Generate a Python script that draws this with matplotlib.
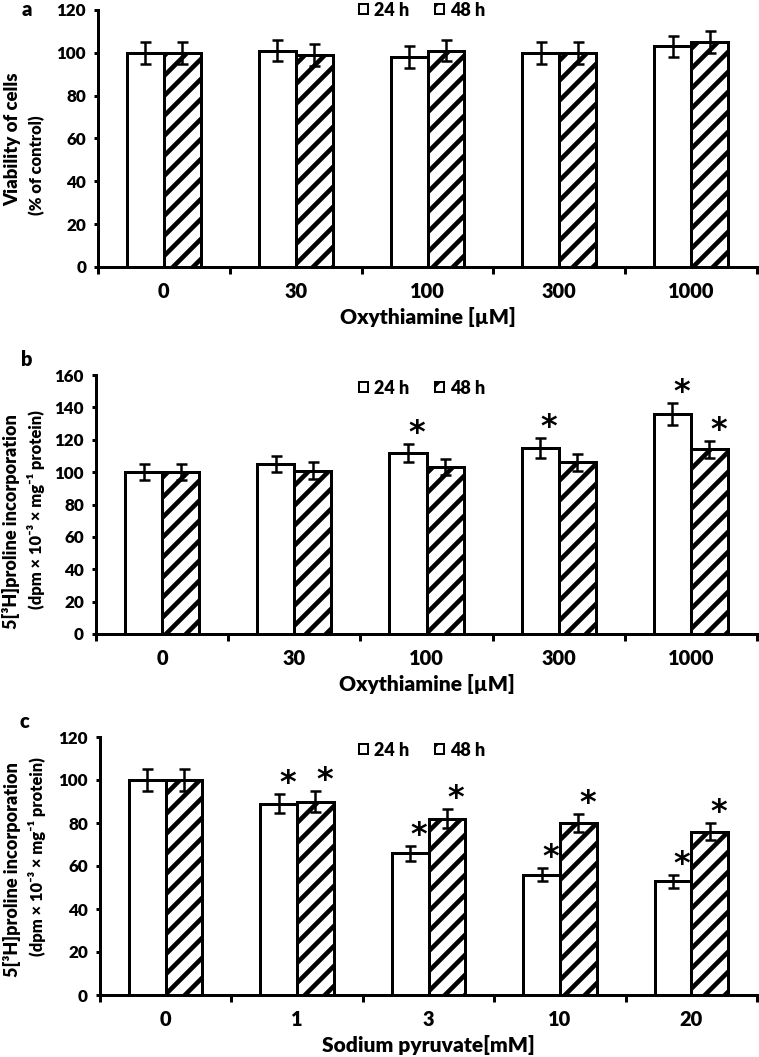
import matplotlib
matplotlib.use('Agg')
import matplotlib.pyplot as plt
from matplotlib.patches import Patch
import numpy as np

# ---------------- data ----------------
cats_a = ['0', '30', '100', '300', '1000']
a_24 = [100, 101, 98, 100, 103]
a_48 = [100, 99, 101, 100, 105]
a_24_err = [5, 5, 5, 5, 5]
a_48_err = [5, 5, 5, 5, 5]
a_24_sig = [False, False, False, False, False]
a_48_sig = [False, False, False, False, False]

cats_b = ['0', '30', '100', '300', '1000']
b_24 = [100, 105, 112, 115, 136]
b_48 = [100, 101, 103, 106, 114]
b_24_err = [5, 5, 5.5, 6, 7]
b_48_err = [5, 5, 5, 5, 5.5]
b_24_sig = [False, False, True, True, True]
b_48_sig = [False, False, False, False, True]

cats_c = ['0', '1', '3', '10', '20']
c_24 = [100, 89, 66, 56, 53]
c_48 = [100, 90, 82, 80, 76]
c_24_err = [5, 4.5, 3.5, 3, 3]
c_48_err = [5, 5, 4.5, 4, 4]
c_24_sig = [False, True, True, True, True]
c_48_sig = [False, True, True, True, True]

series_labels = ['24 h', '48 h']

# ---------------- style ----------------
DPI = 60
W, H = 759, 1057
def pt(px):
    return px * 72.0 / DPI

FONT = ['Lato', 'DejaVu Sans']
WEIGHT = 'heavy'
plt.rcParams['font.family'] = FONT
plt.rcParams['font.weight'] = WEIGHT
plt.rcParams['hatch.linewidth'] = pt(4.6)
plt.rcParams['hatch.color'] = 'black'

fig = plt.figure(figsize=(W / DPI, H / DPI), dpi=DPI)

def make_axes(l, r, t, b):
    return fig.add_axes([l / W, 1 - b / H, (r - l) / W, (b - t) / H])

BW = 0.28
LW = pt(3)

def panel(ax, cats, v24, v48, e24, e48, s24, s48, ymax, ystep, xlabel):
    x = np.arange(len(cats))
    ekw = dict(ecolor='black', elinewidth=pt(2.5), capsize=pt(5.5), capthick=pt(2.5))
    ax.bar(x - BW / 2, v24, width=BW, facecolor='white', edgecolor='black',
           linewidth=LW, yerr=e24, error_kw=ekw, zorder=2)
    ax.bar(x + BW / 2, v48, width=BW, facecolor='white', edgecolor='black',
           linewidth=LW, hatch='/', yerr=e48, error_kw=ekw, zorder=2)
    for xs, vals, errs, sig in ((x - BW / 2, v24, e24, s24), (x + BW / 2, v48, e48, s48)):
        for xi, v, e, s in zip(xs, vals, errs, sig):
            if s:
                ax.annotate('*', xy=(xi, v + e), xytext=(pt(9), pt(2)),
                            textcoords='offset points', ha='center', va='baseline',
                            fontsize=pt(32), fontweight='bold',
                            family='DejaVu Sans', zorder=5)
    ax.set_xlim(-0.5, len(cats) - 0.5)
    ax.set_ylim(0, ymax)
    ax.set_yticks(np.arange(0, ymax + 1, ystep))
    ax.set_xticks(x)
    ax.set_xticklabels(cats)
    ax.set_xticks(np.arange(-0.5, len(cats), 1.0), minor=True)
    ax.tick_params(axis='x', which='major', length=0, pad=pt(15), labelsize=pt(20))
    ax.tick_params(axis='x', which='minor', length=pt(7), width=LW, direction='out')
    ax.tick_params(axis='y', which='major', length=pt(4), width=LW, direction='out',
                   pad=pt(8), labelsize=pt(17))
    for sp in ('top', 'right'):
        ax.spines[sp].set_visible(False)
    for sp in ('left', 'bottom'):
        ax.spines[sp].set_linewidth(LW)
    ax.spines['left'].set_zorder(4)
    ax.spines['bottom'].set_zorder(4)
    ax.set_xlabel(xlabel, fontsize=pt(21), fontweight=WEIGHT, labelpad=pt(6))
    for lab in ax.get_xticklabels() + ax.get_yticklabels():
        lab.set_fontweight(WEIGHT)

def legend_at(cx, cy):
    handles = [Patch(facecolor='white', edgecolor='black', linewidth=pt(2)),
               Patch(facecolor='white', edgecolor='black', linewidth=pt(2), hatch='/')]
    fig.legend(handles, series_labels, loc='center', bbox_to_anchor=(cx / W, 1 - cy / H),
               ncol=2, frameon=False, handlelength=0.5, handleheight=0.5,
               handletextpad=0.35, columnspacing=1.4,
               prop={'weight': WEIGHT, 'size': pt(18), 'family': FONT})

def ylab(x, y, text, size):
    fig.text(x / W, 1 - y / H, text, rotation=90, ha='center', va='center',
             fontsize=pt(size), fontweight=WEIGHT)

# Panel a
ax_a = make_axes(98, 757, 10, 267)
panel(ax_a, cats_a, a_24, a_48, a_24_err, a_48_err, a_24_sig, a_48_sig, 120, 20,
      'Oxythiamine [µM]')
legend_at(422, 10)
ylab(13, 139, 'Viability of cells', 18.5)
ylab(37, 165, '(% of control)', 16.5)
fig.text(27 / W, 1 - 9 / H, 'a', ha='center', va='center', fontsize=pt(20), fontweight=WEIGHT)

# Panel b
ax_b = make_axes(96, 757, 375, 634)
panel(ax_b, cats_b, b_24, b_48, b_24_err, b_48_err, b_24_sig, b_48_sig, 160, 20,
      'Oxythiamine [µM]')
legend_at(422, 388)
ylab(11, 522, '5[³H]proline incorporation', 18)
ylab(36, 510, '(dpm × 10⁻³ × mg⁻¹ protein)', 16.5)
fig.text(27 / W, 1 - 360 / H, 'b', ha='center', va='center', fontsize=pt(20), fontweight=WEIGHT)

# Panel c
ax_c = make_axes(100, 757, 737, 995)
panel(ax_c, cats_c, c_24, c_48, c_24_err, c_48_err, c_24_sig, c_48_sig, 120, 20,
      'Sodium pyruvate[mM]')
legend_at(422, 750)
ylab(12, 870, '5[³H]proline incorporation', 18)
ylab(37, 857, '(dpm × 10⁻³ × mg⁻¹ protein)', 16.5)
fig.text(24 / W, 1 - 721 / H, 'c', ha='center', va='center', fontsize=pt(20), fontweight=WEIGHT)

fig.savefig('out.png', dpi=DPI)
